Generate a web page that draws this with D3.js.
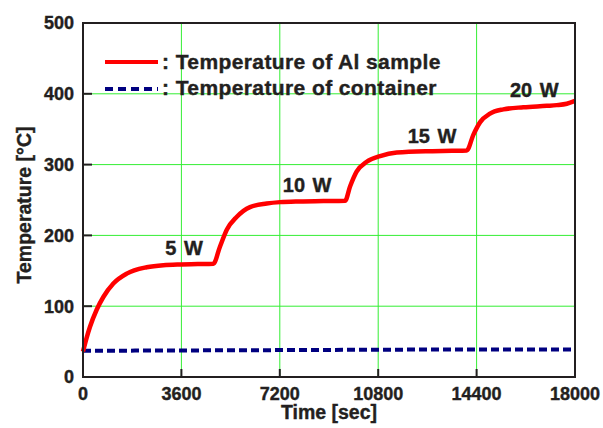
<!DOCTYPE html>
<meta charset="utf-8">
<style>
  body { margin: 0; background: #fff; }
  svg text { font-family: "Liberation Sans", Arial, sans-serif; font-weight: bold; fill: #231f20; stroke: #231f20; stroke-width: 0.4px; }
  .tick-label { font-size: 18px; }
  .axis-title { font-size: 19.5px; }
  .y-title { font-size: 19.5px; }
  .legend-text { font-size: 21px; letter-spacing: 0.4px; }
  .power-label { font-size: 20px; word-spacing: 2px; }
  .grid line { stroke: #33ee33; stroke-width: 1; }
</style>
<body>
<div id="vis"></div>
<script src="https://cdn.jsdelivr.net/npm/d3@7"></script>
<script>

const width = 603,
    height = 428;

// sample temperature (red)
const sampleTime = [0, 130, 256, 500, 744, 1110, 1600, 2330, 2940, 3600, 4200, 4770,
  5010, 5260, 5620, 6110, 6720, 7210, 7940, 8800, 9590,
  9770, 10010, 10380, 10870, 11480, 12700, 13500, 14040,
  14280, 14530, 14890, 15380, 16110, 16970, 17330, 17700, 18000];
const sampleTemp = [36, 55, 71, 95, 113, 132, 146, 155, 158, 159, 159.5, 160,
  184, 208, 226, 240, 245, 247, 248, 248.5, 249,
  269, 290, 304, 312, 317, 319, 319.5, 320,
  342, 360, 372, 378, 381, 383, 384, 386, 390];

// container temperature (blue dashed)
const containerTime = [0, 3600, 7200, 10800, 14400, 18000];
const containerTemp = [37, 37.5, 38, 38.5, 39, 39];

const xTicks = [0, 3600, 7200, 10800, 14400, 18000];
const yTicks = [0, 100, 200, 300, 400, 500];

const powerLabels = ['5 W', '10 W', '15 W', '20 W'];
const powerTime = [3700, 8200, 12770, 16510];
const powerTemp = [172, 261, 331, 395];

const legendLabels = [': Temperature of Al sample', ': Temperature of container'];

let margin = {l: 83, r: 28, t: 23, b: 51};
let x = d3.scaleLinear().domain([0, 18000]).range([margin.l, width - margin.r]);
let y = d3.scaleLinear().domain([0, 500]).range([height - margin.b, margin.t]);

let svg = d3.select('#vis').append('svg')
    .attr('width', width)
    .attr('height', height);

// grid
let grid = svg.append('g').attr('class', 'grid');
grid.selectAll('.vline')
  .data(xTicks.slice(1, -1))
  .enter().append('line')
  .attr('x1', d => x(d)).attr('x2', d => x(d))
  .attr('y1', y(0)).attr('y2', y(500));
grid.selectAll('.hline')
  .data(yTicks.slice(1, -1))
  .enter().append('line')
  .attr('x1', x(0)).attr('x2', x(18000))
  .attr('y1', d => y(d)).attr('y2', d => y(d));

// inward ticks
let ticks = svg.append('g').style('stroke', '#231f20').style('stroke-width', 2);
ticks.selectAll('.ty')
  .data(yTicks)
  .enter().append('line')
  .attr('x1', x(0)).attr('x2', x(0) + 9)
  .attr('y1', d => y(d)).attr('y2', d => y(d));
ticks.selectAll('.tx')
  .data(xTicks)
  .enter().append('line')
  .attr('x1', d => x(d)).attr('x2', d => x(d))
  .attr('y1', y(0)).attr('y2', y(0) - 8);

// tick labels
svg.selectAll('.ylab')
  .data(yTicks)
  .enter().append('text')
  .attr('class', 'tick-label')
  .attr('x', x(0) - 9)
  .attr('y', d => y(d))
  .attr('dy', '0.36em')
  .style('text-anchor', 'end')
  .text(d => d);
svg.selectAll('.xlab')
  .data(xTicks)
  .enter().append('text')
  .attr('class', 'tick-label')
  .attr('x', d => x(d))
  .attr('y', y(0) + 23)
  .style('text-anchor', 'middle')
  .text(d => d);

// axis titles
svg.append('text')
  .attr('class', 'axis-title')
  .attr('x', (x(0) + x(18000)) / 2)
  .attr('y', 419)
  .style('text-anchor', 'middle')
  .text('Time [sec]');
svg.append('text')
  .attr('class', 'y-title')
  .attr('transform', 'translate(31,205) rotate(-90)')
  .style('text-anchor', 'middle')
  .text('Temperature [°C]');

// series
let line = d3.line()
  .x(d => x(d[0]))
  .y(d => y(d[1]))
  .curve(d3.curveMonotoneX);

svg.append('path')
  .datum(containerTime.map((t, i) => [t, containerTemp[i]]))
  .attr('d', line)
  .style('fill', 'none')
  .style('stroke', '#000080')
  .style('stroke-width', 4)
  .style('stroke-dasharray', '8,4');

svg.append('path')
  .datum(sampleTime.map((t, i) => [t, sampleTemp[i]]))
  .attr('d', line)
  .style('fill', 'none')
  .style('stroke', '#ff0000')
  .style('stroke-width', 4.5)
  .style('stroke-linejoin', 'round');

// frame
svg.append('rect')
  .attr('x', x(0)).attr('y', y(500))
  .attr('width', x(18000) - x(0))
  .attr('height', y(0) - y(500))
  .style('fill', 'none')
  .style('stroke', '#231f20')
  .style('stroke-width', 2);

// power labels
svg.selectAll('.power')
  .data(powerLabels)
  .enter().append('text')
  .attr('class', 'power-label')
  .attr('x', (d, i) => x(powerTime[i]))
  .attr('y', (d, i) => y(powerTemp[i]))
  .style('text-anchor', 'middle')
  .text(d => d);

// legend
let legend = svg.append('g');
legend.append('line')
  .attr('x1', 105).attr('x2', 158).attr('y1', 62).attr('y2', 62)
  .style('stroke', '#ff0000').style('stroke-width', 4);
legend.append('line')
  .attr('x1', 105).attr('x2', 158).attr('y1', 89).attr('y2', 89)
  .style('stroke', '#000080').style('stroke-width', 4)
  .style('stroke-dasharray', '8,5');
legend.selectAll('.legend-text')
  .data(legendLabels)
  .enter().append('text')
  .attr('class', 'legend-text')
  .attr('x', 162)
  .attr('y', (d, i) => 69 + i * 26)
  .text(d => d);

</script>
</body>
